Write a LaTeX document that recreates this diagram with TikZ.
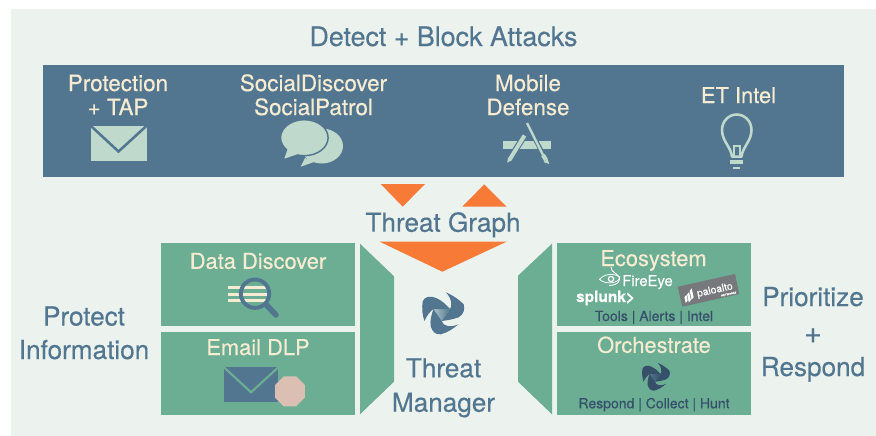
\documentclass[tikz,border=0pt]{standalone}
\usepackage{fontspec}
\setmainfont{TeX Gyre Heros}[FakeBold=0.35]
\definecolor{panel}{HTML}{ECF3EF}
\definecolor{band}{HTML}{52768F}
\definecolor{leaf}{HTML}{6BAE93}
\definecolor{flame}{HTML}{F77B37}
\definecolor{mint}{HTML}{BFD9CC}
\definecolor{cream}{HTML}{F7ECD2}
\definecolor{ink}{HTML}{36506A}
\definecolor{blush}{HTML}{DBBFB3}
\definecolor{slate}{HTML}{77787B}
\newcommand{\fsz}[1]{\fontsize{#1}{#1}\selectfont}
\newcommand{\threatlogo}[6]{%
\begin{scope}[shift={(#1,#2)},scale=#3]
\shade[left color=#5,right color=#6] (-8.3,-4.3) -- (8.3,-4.3) -- (0,7.7) -- cycle;
\fill[#4] (-17.3,7.7) .. controls (-19.5,1) and (-20,-5) .. (-19,-12) .. controls (-17,-17) and (-11,-18) .. (-5,-15) .. controls (0,-13) and (4,-9) .. (8.3,-4.3) -- (-8.3,-4.3) .. controls (-12,-1.5) and (-15,2.5) .. (-17.3,7.7) -- cycle;
\fill[#4] (4.3,-21) .. controls (11,-18) and (17,-14) .. (22,-9) .. controls (23.5,-4) and (22,1) .. (17,4) .. controls (11,6) and (6,7) .. (0,7.7) -- (8.3,-4.3) .. controls (10.5,-7) and (10.5,-14) .. (4.3,-21) -- cycle;
\fill[#4] (16.7,11) .. controls (11,16) and (5,19.5) .. (-1,21) .. controls (-6,21.5) and (-9,19) .. (-11,13) .. controls (-12,7) and (-10,1) .. (-8.3,-4.3) -- (0,7.7) .. controls (1,13) and (9,14.5) .. (16.7,11) -- cycle;
\end{scope}}
\tikzset{
 x=0.75pt,y=-0.75pt,
 txtlbl/.style={anchor=base,inner sep=0pt,outer sep=0pt},
 caplbl/.style={txtlbl,text=cream,font=\fsz{16.4}},
 toplbl/.style={txtlbl,text=cream,font=\fsz{16.8}},
 headlbl/.style={txtlbl,text=band,font=\fsz{19.6}},
 smalllbl/.style={txtlbl,text=ink,font=\fsz{10.5}},
 leafbox/.style={fill=leaf},
}
\begin{document}
\begin{tikzpicture}
\useasboundingbox (0,0) rectangle (876,436);
\fill[white] (0,0) rectangle (876,436);
\fill[panel] (11,9) rectangle (876,436);
\fill[band] (43,65) rectangle (844,177);
% triangles
\fill[flame] (380.7,184) -- (425,184) -- (402.7,206.7) -- cycle;
\fill[flame] (462.3,206.7) -- (506.7,206.7) -- (484.3,184.3) -- cycle;
\fill[flame] (379.3,241.5) -- (507,241.5) -- (442.3,271.7) -- cycle;
% green blocks
\fill[leafbox] (161,243) rectangle (355,325.7);
\fill[leafbox] (161,332) rectangle (355,415);
\fill[leafbox] (557,243) rectangle (751,325.7);
\fill[leafbox] (557,332) rectangle (751,415);
\fill[leafbox] (360,243.7) -- (394,276.3) -- (394,381.7) -- (360,414.3) -- cycle;
\fill[leafbox] (552,243.7) -- (518,275.7) -- (518,381.7) -- (552,414.3) -- cycle;
% texts
\node[txtlbl,text=band,font=\fsz{20.1}] (title) at (443.5,46) {Detect + Block Attacks};
\node[toplbl] (p1) at (118,91) {Protection};
\node[toplbl] (p2) at (118,115) {+ TAP};
\node[toplbl] (s1) at (313.5,91) {SocialDiscover};
\node[toplbl] (s2) at (313.5,115) {SocialPatrol};
\node[toplbl] (m1) at (528,91) {Mobile};
\node[toplbl] (m2) at (528,115) {Defense};
\node[caplbl] (et) at (738.5,103) {ET Intel};
\node[headlbl] (tg) at (443,231.7) {Threat Graph};
\node[headlbl] (pi1) at (84,325.5) {Protect};
\node[headlbl] (pi2) at (84,359) {Information};
\node[headlbl] (pr1) at (813,306) {Prioritize};
\node[headlbl,font=\fsz{23}] (pr2) at (813,343) {+};
\node[headlbl] (pr3) at (813,376) {Respond};
\node[headlbl] (tm1) at (443.5,377.3) {Threat};
\node[headlbl] (tm2) at (443.5,411.7) {Manager};
\node[caplbl] (dd) at (258,268.8) {Data Discover};
\node[caplbl] (ed) at (258,355) {Email DLP};
\node[caplbl] (ec) at (653.5,266) {Ecosystem};
\node[caplbl] (or) at (654,352.8) {Orchestrate};
\node[smalllbl] (tools) at (654,321) {Tools | Alerts | Intel};
\node[smalllbl] (resp) at (654,408.3) {Respond | Collect | Hunt};
% envelope
\fill[mint] (90.7,125.7) rectangle (146.7,160.7);
\draw[band,line width=1.9pt] (90.7,125.7) -- (118.5,151.5) -- (146.7,125.7);
% speech bubbles
\fill[mint] (321.7,146) ellipse [x radius=21.3,y radius=17.5];
\fill[mint] (305,158) -- (300.7,166.7) -- (314,162) -- cycle;
\filldraw[fill=mint,draw=band,line width=1.1pt] (304.3,137.7) ellipse [x radius=23.8,y radius=18];
\fill[mint] (288,148) -- (284.3,158.7) -- (298,154) -- cycle;
% app icon
\fill[mint] (503.3,141) rectangle (550.7,149);
\draw[band,line width=4.6pt] (524.5,135.5) -- (509.5,159.5);
\draw[mint,line width=3pt] (524.5,135.5) -- (510,159);
\fill[mint] (507.3,162.7) -- (508,157.5) -- (512.2,160) -- cycle;
\draw[band,line width=3.4pt] (527.5,124.5) -- (545,158);
\draw[mint,line width=1.7pt] (527,123) -- (543,155);
\draw[mint,line width=3.2pt] (543,155) -- (546,160);
\fill[mint] (549.3,164) -- (543.5,162) -- (547.5,159) -- cycle;
% bulb
\draw[mint,line width=1.9pt,line join=round] (732,156.7) .. controls (731,147) and (722,141) .. (722,130) .. controls (722,121) and (729,114.5) .. (736.7,114.5) .. controls (744.5,114.5) and (751.5,121) .. (751.5,130) .. controls (751.5,141) and (742.5,147) .. (741.5,156.7) -- cycle;
\draw[mint,line width=1.4pt] (733.7,156) -- (733.7,146) -- (739.7,146) -- (739.7,156);
\fill[mint] (730,160) rectangle (743.3,164.3);
\fill[mint] (733,166.7) rectangle (740,168.7);
% magnifier
\foreach \yy in {287.7,294.7,300.7} \fill[cream] (228,\yy-1.4) rectangle (267.3,\yy+1.4);
\draw[band,line width=2.9pt] (255,293.7) circle [radius=14.2];
\draw[band,line width=4.2pt,line cap=round] (266.5,305) -- (276,315);
% envelope with stop sign
\fill[band] (224,367.3) rectangle (278.3,401.7);
\draw[leaf,line width=1.6pt] (224,367.3) -- (251,392.3) -- (278.3,367.3);
\fill[blush] (296.2,376.3) -- (304.9,385.1) -- (304.9,397.5) -- (296.2,406.3) -- (283.8,406.3) -- (275,397.5) -- (275,385.1) -- (283.8,376.3) -- cycle;
% logos
\threatlogo{441.7}{313.3}{1}{band}{band!40!panel}{band}
\threatlogo{655}{376.7}{0.66}{ink}{band}{ink}
% FireEye
\node[txtlbl,text=white,font=\fsz{11.1}] (fe) at (647.5,286) {FireEye};
\draw[white,line width=0.6pt] (599.5,279.5) .. controls (604,273.5) and (614,273) .. (620,277) .. controls (619,283) and (607,285.5) .. (599.5,279.5) -- cycle;
\draw[white,line width=0.9pt] (611,279) circle [radius=2.6];
\draw[white,line width=0.7pt] (611,267) .. controls (610,273) and (622,274) .. (619,281) .. controls (618,284) and (613,285.5) .. (609,285.5);
% splunk
\node[txtlbl,text=white,font=\bfseries\fsz{11.6}] (sp) at (605.5,302) {splunk>};
% paloalto
\fill[slate] (677.7,286.7) -- (735,274) -- (739.3,294) -- (682.3,306.7) -- cycle;
\node[txtlbl,text=white,font=\fsz{7.8},rotate=12.5] (pa) at (715.5,293) {paloalto};
\node[txtlbl,text=white,font=\fsz{2},rotate=12.5] (nw) at (729,295) {NETWORKS};
\begin{scope}[shift={(690,297)},rotate=12.5]
\fill[white] (-5.5,-1) -- (-3,-3) -- (-3,3) -- (-5.5,5) -- cycle;
\fill[white] (-2.3,-3) -- (0.2,-5) -- (0.2,3) -- (-2.3,5) -- cycle;
\fill[white] (1,-6) -- (3.5,-8) -- (3.5,1) -- (1,3) -- cycle;
\end{scope}
\end{tikzpicture}
\end{document}
